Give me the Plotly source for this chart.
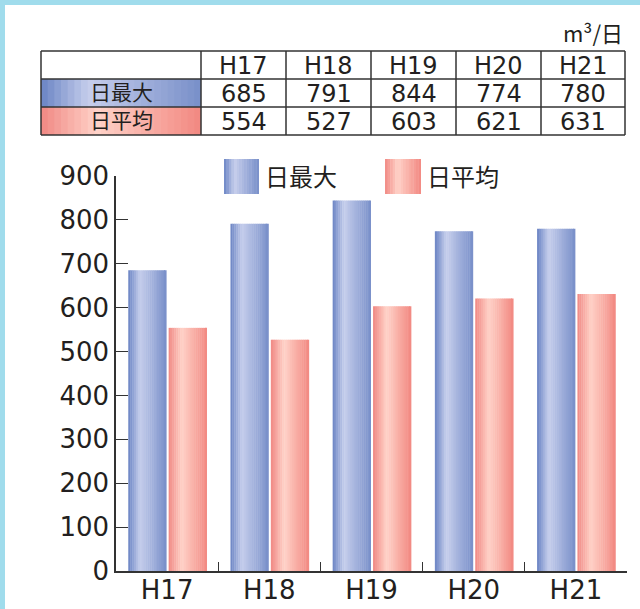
import plotly.graph_objects as go

# ---- data ----
years = ["H17", "H18", "H19", "H20", "H21"]
day_max = [685, 791, 844, 774, 780]
day_avg = [554, 527, 603, 621, 631]
series_names = ["日最大", "日平均"]
unit_label = "m³/日"
y_ticks = [0, 100, 200, 300, 400, 500, 600, 700, 800, 900]

W, H = 640, 609


def X(px):
    return px / W


def Y(py):
    return 1 - py / H


blue_stops = [(0.0, (106, 132, 196)), (0.30, (198, 206, 236)), (1.0, (120, 143, 201))]
red_stops = [(0.0, (240, 136, 131)), (0.35, (255, 210, 200)), (1.0, (242, 136, 129))]


def grad(stops, t):
    for (t0, c0), (t1, c1) in zip(stops[:-1], stops[1:]):
        if t0 <= t <= t1:
            f = (t - t0) / (t1 - t0)
            c = [round(a + (b - a) * f) for a, b in zip(c0, c1)]
            return "rgb(%d,%d,%d)" % tuple(c)
    return "rgb(%d,%d,%d)" % stops[-1][1]


FONT = "DejaVu Sans, Noto Sans CJK JP, sans-serif"
JFONT = "Noto Sans CJK JP, sans-serif"
TXT = "#231f20"
LINE = "#333333"

fig = go.Figure()

N = 20
bw = 0.375
for vals, stops, off in [(day_max, blue_stops, -0.38), (day_avg, red_stops, 0.015)]:
    for i in range(N):
        t = (i + 0.5) / N
        w = bw / N * (1.2 if i < N - 1 else 1.0)
        fig.add_trace(go.Bar(
            x=years, y=vals, width=w, offset=off + i * bw / N,
            marker=dict(color=grad(stops, t), line=dict(width=0)),
            showlegend=False, hoverinfo="skip"))

shapes = []
annotations = []

# light-blue frame
shapes.append(dict(type="rect", xref="paper", yref="paper", x0=0, x1=X(5), y0=0, y1=1,
                   fillcolor="#a0dcec", line=dict(width=0), layer="below"))
shapes.append(dict(type="rect", xref="paper", yref="paper", x0=0, x1=1, y0=Y(5), y1=1,
                   fillcolor="#a0dcec", line=dict(width=0), layer="below"))

# ---- table ----
col_x = [41, 201, 286, 371, 456, 541, 625]
row_y = [51, 79, 107, 135]


def grad_rect(x0, x1, y0, y1, stops, n=24):
    for i in range(n):
        t = (i + 0.5) / n
        a = x0 + (x1 - x0) * i / n
        b = x0 + (x1 - x0) * (i + 1.15) / n if i < n - 1 else x1
        shapes.append(dict(type="rect", xref="paper", yref="paper",
                           x0=X(a), x1=X(b), y0=Y(y1), y1=Y(y0),
                           fillcolor=grad(stops, t), line=dict(width=0), layer="below"))


grad_rect(col_x[0], col_x[1], row_y[1], row_y[2], blue_stops)
grad_rect(col_x[0], col_x[1], row_y[2], row_y[3], red_stops)

for xv in col_x:
    shapes.append(dict(type="line", xref="paper", yref="paper", x0=X(xv), x1=X(xv),
                       y0=Y(row_y[0]), y1=Y(row_y[-1]), line=dict(color=LINE, width=1.5)))
for yv in row_y:
    shapes.append(dict(type="line", xref="paper", yref="paper", x0=X(col_x[0]), x1=X(col_x[-1]),
                       y0=Y(yv), y1=Y(yv), line=dict(color=LINE, width=1.5)))


def cell_text(txt, cx, cy, size=24, font=FONT):
    annotations.append(dict(text=txt, x=X(cx), y=Y(cy), xref="paper", yref="paper",
                            xanchor="center", yanchor="middle", showarrow=False,
                            font=dict(family=font, size=size, color=TXT)))


for j, yr in enumerate(years):
    cx = (col_x[j + 1] + col_x[j + 2]) / 2
    cell_text(yr, cx, (row_y[0] + row_y[1]) / 2 + 1)
    cell_text(str(day_max[j]), cx, (row_y[1] + row_y[2]) / 2 + 1)
    cell_text(str(day_avg[j]), cx, (row_y[2] + row_y[3]) / 2 + 1)

cell_text(series_names[0], (col_x[0] + col_x[1]) / 2, (row_y[1] + row_y[2]) / 2 - 2, 21, JFONT)
cell_text(series_names[1], (col_x[0] + col_x[1]) / 2, (row_y[2] + row_y[3]) / 2 - 2, 21, JFONT)

annotations.append(dict(text=unit_label, x=X(625), y=Y(32), xref="paper", yref="paper",
                        xanchor="right", yanchor="middle", showarrow=False,
                        font=dict(family=JFONT, size=22, color=TXT)))

# ---- legend ----
grad_rect(224, 259, 159, 194, blue_stops, 14)
grad_rect(385, 421, 159, 194, red_stops, 14)
for name, lx in [(series_names[0], 263), (series_names[1], 425)]:
    annotations.append(dict(text=name, x=X(lx), y=Y(175), xref="paper", yref="paper",
                            xanchor="left", yanchor="middle", showarrow=False,
                            font=dict(family=JFONT, size=24, color=TXT)))

fig.update_layout(
    width=W, height=H, autosize=False,
    margin=dict(l=0, r=0, t=0, b=0, pad=0),
    paper_bgcolor="white", plot_bgcolor="rgba(0,0,0,0)",
    barmode="overlay",
    showlegend=False,
    shapes=shapes, annotations=annotations,
    xaxis=dict(domain=[X(116), X(627)], type="category", showline=True, automargin=False,
               linecolor=LINE, linewidth=1.5, ticks="inside", tickson="boundaries",
               ticklen=9, tickcolor=LINE, tickwidth=1.3, showgrid=False,
               ticklabelstandoff=-5,
               tickfont=dict(family=FONT, size=26, color=TXT), fixedrange=True),
    yaxis=dict(domain=[Y(571), Y(176)], range=[0, 900], tickvals=y_ticks, automargin=False,
               showline=True, linecolor=LINE, linewidth=1.5, ticks="inside",
               ticklen=12, tickcolor=LINE, tickwidth=1.3, showgrid=False,
               zeroline=False, tickfont=dict(family=FONT, size=26, color=TXT),
               fixedrange=True),
)

fig.write_html("out.html", config={"displayModeBar": False},
               post_script="document.body.style.margin='0';document.body.style.padding='0';")
